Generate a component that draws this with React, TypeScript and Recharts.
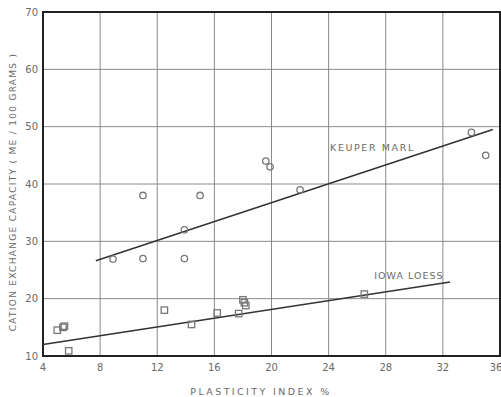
import React from 'react';
import { ScatterChart, Scatter, XAxis, YAxis, CartesianGrid, ReferenceLine, ReferenceArea, ReferenceDot } from 'recharts';

const xTicks = [4, 8, 12, 16, 20, 24, 28, 32, 36];
const yTicks = [10, 20, 30, 40, 50, 60, 70];

const keuperX = [8.9, 11, 11, 13.9, 13.9, 15, 19.6, 19.9, 22, 34, 35];
const keuperY = [26.9, 27, 38, 27, 32, 38, 44, 43, 39, 49, 45];

const iowaX = [5.0, 5.4, 5.5, 5.8, 12.5, 14.4, 16.2, 17.7, 18.0, 18.1, 18.2, 26.5];
const iowaY = [14.5, 15.0, 15.2, 10.9, 18.0, 15.5, 17.5, 17.4, 19.8, 19.3, 18.8, 20.8];

const keuperLineX = [7.7, 35.5];
const keuperLineY = [26.6, 49.5];
const iowaLineX = [4, 32.5];
const iowaLineY = [12.0, 22.9];

const keuperData = keuperX.map((x, i) => ({ x, y: keuperY[i] }));
const iowaData = iowaX.map((x, i) => ({ x, y: iowaY[i] }));

const FONT = "'DejaVu Sans', sans-serif";
const TXT = '#6a6a6a';
const MARK = '#777';

const Circle = (props: any) => {
  const { cx, cy } = props;
  if (cx == null || cy == null) return null;
  return <circle cx={cx} cy={cy} r={3.2} fill="none" stroke={MARK} strokeWidth={1.3} />;
};

const Square = (props: any) => {
  const { cx, cy } = props;
  if (cx == null || cy == null) return null;
  return <rect x={cx - 3.2} y={cy - 3.2} width={6.4} height={6.4} fill="none" stroke={MARK} strokeWidth={1.3} />;
};

export default function App() {
  return (
    <div style={{ position: 'absolute', left: 0, top: 0, width: 501, height: 397, background: '#fff' }}>
      <ScatterChart width={501} height={397} margin={{ top: 12, right: 1, bottom: 11, left: 0 }}>
        <CartesianGrid stroke="#8a8a8a" strokeWidth={1} horizontalValues={yTicks} verticalValues={xTicks} />
        <XAxis
          type="number"
          dataKey="x"
          domain={[4, 36]}
          ticks={xTicks}
          allowDataOverflow
          height={30}
          tickLine={false}
          axisLine={false}
          tickSize={4}
          tickMargin={4}
          tick={{ fill: TXT, fontSize: 10, fontFamily: FONT }}
          label={{
            content: () => (
              <text x={261} y={391} textAnchor="middle" dominantBaseline="central" fill={TXT} fontSize={9.5} fontFamily={FONT} letterSpacing={2.4}>
                PLASTICITY  INDEX  %
              </text>
            ),
          }}
        />
        <YAxis
          type="number"
          dataKey="y"
          domain={[10, 70]}
          ticks={yTicks}
          allowDataOverflow
          width={43}
          tickLine={false}
          axisLine={false}
          tickSize={3}
          tickMargin={2}
          tick={{ fill: TXT, fontSize: 10, fontFamily: FONT }}
          label={{
            content: () => (
              <text x={13} y={192} transform="rotate(-90 13 192)" textAnchor="middle" dominantBaseline="central" fill={TXT} fontSize={9} fontFamily={FONT} letterSpacing={1.3}>
                CATION EXCHANGE CAPACITY ( ME / 100 GRAMS )
              </text>
            ),
          }}
        />
        <ReferenceArea x1={4} x2={36} y1={10} y2={70} fill="none" stroke="#222" strokeWidth={2} ifOverflow="visible" />
        <ReferenceLine
          segment={[{ x: keuperLineX[0], y: keuperLineY[0] }, { x: keuperLineX[1], y: keuperLineY[1] }]}
          stroke="#333"
          strokeWidth={1.6}
        />
        <ReferenceLine
          segment={[{ x: iowaLineX[0], y: iowaLineY[0] }, { x: iowaLineX[1], y: iowaLineY[1] }]}
          stroke="#333"
          strokeWidth={1.6}
        />
        <Scatter data={keuperData} shape={Circle} isAnimationActive={false} />
        <Scatter data={iowaData} shape={Square} isAnimationActive={false} />
        <ReferenceDot x={24.1} y={46.3} r={0} label={{ value: 'KEUPER MARL', position: 'right', offset: 0, fill: TXT, fontSize: 9.5, fontFamily: FONT, letterSpacing: 1.6 }} />
        <ReferenceDot x={27.2} y={24.1} r={0} label={{ value: 'IOWA LOESS', position: 'right', offset: 0, fill: TXT, fontSize: 9.5, fontFamily: FONT, letterSpacing: 1.0 }} />
      </ScatterChart>
    </div>
  );
}
